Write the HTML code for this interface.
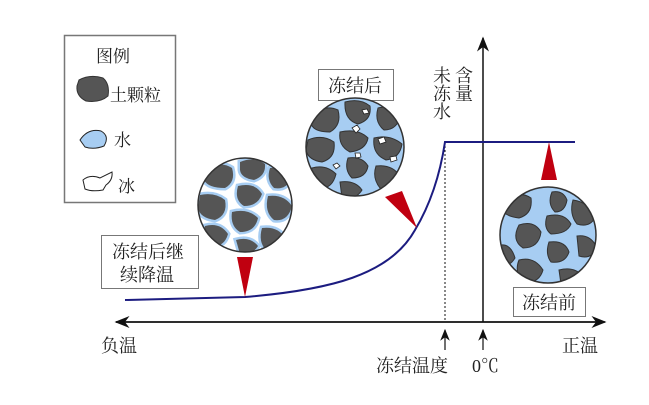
<!DOCTYPE html>
<html><head><meta charset="utf-8"><style>
body{margin:0;background:#fff;}
svg text{font-family:"Liberation Serif","Noto Serif CJK SC",serif;fill:#222;}
</style></head><body>
<svg width="649" height="400" viewBox="0 0 649 400" xmlns="http://www.w3.org/2000/svg">
<defs>
<clipPath id="c1"><circle cx="245" cy="205" r="47"/></clipPath>
<clipPath id="c2"><circle cx="355" cy="147" r="49"/></clipPath>
<clipPath id="c3"><circle cx="548" cy="235" r="48"/></clipPath>
<marker id="ar" markerWidth="10" markerHeight="8" refX="9" refY="4" orient="auto"><path d="M0,0 L10,4 L0,8 L3,4Z" fill="#111"/></marker>
</defs>
<!-- legend -->
<rect x="64.5" y="35.5" width="111" height="167" fill="#fff" stroke="#777" stroke-width="1.5"/>
<text x="96" y="62" font-size="17">图例</text>
<path d="M79,80 Q90,74 103,78 Q110,84 108,96 Q100,103 86,101 Q76,96 77,86Z" fill="#555" stroke="#333"/>
<text x="110" y="101" font-size="17">土颗粒</text>
<path d="M80,140 Q88,128 101,131 Q110,136 104,146 Q94,150 85,147Z" fill="#a7cdf2" stroke="#222"/>
<text x="114" y="146" font-size="17">水</text>
<path d="M83,180 Q90,174 100,178 L112,172 Q113,180 106,185 L103,190 Q92,192 85,189Z" fill="#fff" stroke="#222"/>
<text x="118" y="192" font-size="17">冰</text>
<!-- axes -->
<line x1="600" y1="322" x2="116" y2="322" stroke="#111" stroke-width="1.5" marker-end="url(#ar)"/>
<line x1="116" y1="322" x2="605" y2="322" stroke="#111" stroke-width="1.5" marker-end="url(#ar)"/>
<line x1="483" y1="322" x2="483" y2="38" stroke="#111" stroke-width="1.5" marker-end="url(#ar)"/>
<line x1="445" y1="142" x2="445" y2="322" stroke="#111" stroke-width="1" stroke-dasharray="2,2"/>
<line x1="445" y1="350" x2="445" y2="330" stroke="#111" stroke-width="1.2" marker-end="url(#ar)"/>
<line x1="483" y1="350" x2="483" y2="330" stroke="#111" stroke-width="1.2" marker-end="url(#ar)"/>
<!-- curve -->
<path d="M125,300 L245,297 C330,290 390,275 415,230 C430,205 440,175 445,142 L575,142" fill="none" stroke="#1c1c80" stroke-width="2"/>
<!-- text -->
<text x="101" y="352" font-size="18">负温</text>
<text x="562" y="352" font-size="18">正温</text>
<text x="376" y="372" font-size="18">冻结温度</text>
<text x="472" y="372" font-size="18">0℃</text>
<text x="441" y="66" font-size="18" style="writing-mode:vertical-lr">未冻水</text>
<text x="463" y="66" font-size="18" style="writing-mode:vertical-lr">含量</text>
<!-- label boxes -->
<rect x="318.5" y="69.5" width="75" height="31" fill="#fff" stroke="#777"/>
<text x="328" y="92" font-size="18">冻结后</text>
<rect x="101.5" y="235.5" width="97" height="53" fill="#fff" stroke="#777"/>
<text x="112" y="258" font-size="18">冻结后继</text>
<text x="120" y="281" font-size="18">续降温</text>
<rect x="513.5" y="287.5" width="72" height="29" fill="#fff" stroke="#777"/>
<text x="522" y="309" font-size="18">冻结前</text>
<!-- red triangles -->
<polygon points="237,257 253,257 245,297" fill="#c00010"/>
<polygon points="385,197 402,191 417,228" fill="#c00010"/>
<polygon points="541,180 557,180 549,142" fill="#c00010"/>
<!-- circle 1: ice + water -->
<g clip-path="url(#c1)">
<rect x="195" y="155" width="100" height="100" fill="#fff"/>
<g fill="#555" stroke="#a7cdf2" stroke-width="5" paint-order="stroke">
<path d="M205,170 Q220,160 232,168 Q236,182 225,188 Q208,188 204,180Z"/>
<path d="M240,162 Q255,156 265,164 Q266,176 254,180 Q241,178 240,170Z"/>
<path d="M270,168 Q285,166 290,180 Q286,190 274,188 Q266,180 270,168Z"/>
<path d="M200,195 Q215,192 225,200 Q228,215 215,220 Q200,218 198,208Z"/>
<path d="M238,186 Q255,182 262,194 Q258,206 244,206 Q234,200 238,186Z"/>
<path d="M268,196 Q284,194 292,206 Q288,222 274,220 Q264,212 268,196Z"/>
<path d="M232,212 Q248,208 258,218 Q255,232 240,232 Q230,226 232,212Z"/>
<path d="M205,226 Q220,222 228,234 Q224,248 210,246 Q202,238 205,226Z"/>
<path d="M262,228 Q278,226 285,238 Q280,250 266,250 Q258,242 262,228Z"/>
<path d="M236,240 Q250,236 258,246 Q252,256 240,254Z"/>
</g>
</g>
<circle cx="245" cy="205" r="47" fill="none" stroke="#333" stroke-width="1.5"/>
<!-- circle 2 -->
<g clip-path="url(#c2)">
<rect x="305" y="97" width="100" height="100" fill="#a7cdf2"/>
<g fill="#555" stroke="#333">
<path d="M312,115 Q325,104 338,110 Q342,125 330,132 Q314,132 311,124Z"/>
<path d="M345,102 Q360,98 370,106 Q372,120 358,124 Q344,120 345,102Z"/>
<path d="M378,108 Q392,104 400,118 Q396,130 384,130 Q374,122 378,108Z"/>
<path d="M308,140 Q322,134 334,142 Q336,158 322,162 Q308,160 306,150Z"/>
<path d="M340,132 Q358,128 368,138 Q366,150 350,152 Q338,146 340,132Z"/>
<path d="M374,138 Q390,134 402,144 Q400,158 386,160 Q372,154 374,138Z"/>
<path d="M312,168 Q326,164 336,174 Q332,190 318,188 Q308,180 312,168Z"/>
<path d="M348,158 Q362,156 368,166 Q366,178 352,178 Q344,170 348,158Z"/>
<path d="M376,166 Q392,164 400,176 Q394,190 380,188 Q372,178 376,166Z"/>
<path d="M340,182 Q355,180 362,190 Q356,200 342,198Z"/>
</g>
<g fill="#fff" stroke="#222" stroke-width="0.8">
<path d="M352,128 l5,-3 l3,4 l-4,4z"/><path d="M378,139 l6,-2 l2,5 l-6,2z"/>
<path d="M333,165 l4,-2 l3,3 l-4,3z"/><path d="M355,153 l5,0 l1,4 l-5,1z"/>
<path d="M390,157 l6,-1 l1,4 l-6,2z"/><path d="M362,110 l5,-1 l2,4 l-5,1z"/>
</g>
</g>
<circle cx="355" cy="147" r="49" fill="none" stroke="#333" stroke-width="1.5"/>
<!-- circle 3 -->
<g clip-path="url(#c3)">
<rect x="498" y="185" width="100" height="100" fill="#a7cdf2"/>
<g fill="#555" stroke="#333" transform="translate(-1,20)">
<path d="M505,180 Q520,170 532,178 Q534,194 520,198 Q504,196 503,188Z"/>
<path d="M553,172 Q564,170 568,180 Q566,192 556,192 Q548,184 553,172Z"/>
<path d="M574,180 Q590,182 596,198 Q590,208 578,204 Q570,194 574,180Z"/>
<path d="M520,205 Q535,200 542,212 Q540,228 524,228 Q512,220 520,205Z"/>
<path d="M548,196 Q565,192 572,204 Q568,214 552,214 Q544,208 548,196Z"/>
<path d="M502,225 Q512,224 516,238 Q510,248 500,245Z"/>
<path d="M550,222 Q566,220 570,232 Q566,244 552,242 Q546,234 550,222Z"/>
<path d="M578,216 Q592,214 598,228 Q592,240 580,236Z"/>
<path d="M520,240 Q535,236 544,250 Q540,264 524,262 Q515,252 520,240Z"/>
<path d="M560,250 Q575,246 584,256 Q578,266 562,264Z"/>
</g>
</g>
<circle cx="548" cy="235" r="48" fill="none" stroke="#333" stroke-width="1.5"/>
</svg>
</body></html>
